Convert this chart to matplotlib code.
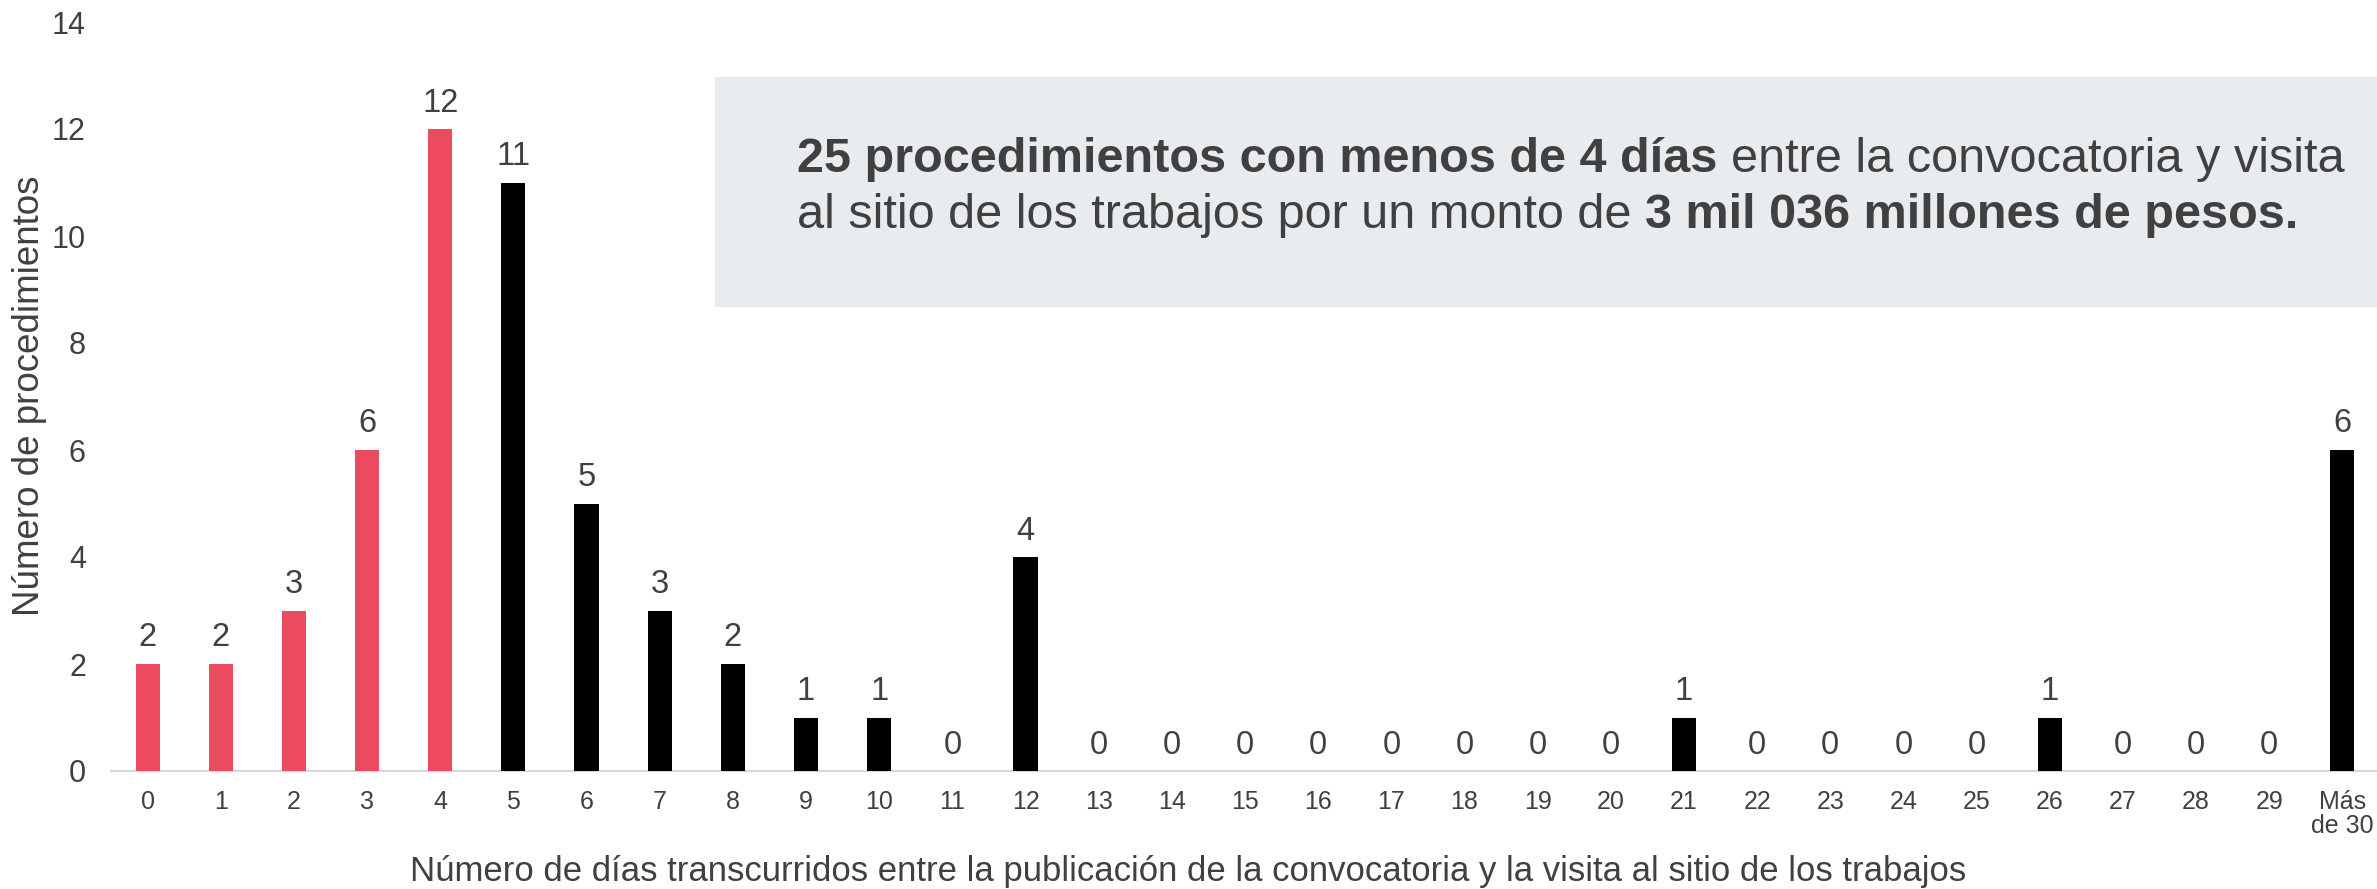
import matplotlib
matplotlib.use("Agg")
import matplotlib.pyplot as plt
from matplotlib.patches import Rectangle

plt.rcParams['font.family'] = ['Liberation Sans', 'DejaVu Sans']

categories = [str(i) for i in range(30)] + ["Más\nde 30"]
values = [2, 2, 3, 6, 12, 11, 5, 3, 2, 1, 1, 0, 4, 0, 0, 0, 0, 0, 0, 0,
          0, 1, 0, 0, 0, 0, 1, 0, 0, 0, 6]
highlight_upto = 4  # categories 0..4 in red
y_ticks = [0, 2, 4, 6, 8, 10, 12, 14]

xlabel = ("Número de días transcurridos entre la publicación de la "
          "convocatoria y la visita al sitio de los trabajos")
ylabel = "Número de procedimientos"
box_line1 = [("25 procedimientos con menos de 4 días", "bold"),
             ("entre la convocatoria y visita", "normal")]
box_line2 = [("al sitio de los trabajos por un monto de", "normal"),
             ("3 mil 036 millones de pesos.", "bold")]

RED = "#EB4A5F"
BLACK = "#000000"
TXT = "#404040"

W, H = 2377, 889
fig = plt.figure(figsize=(W / 100, H / 100), dpi=100)

# annotation box
fig.patches.append(Rectangle((715 / W, 1 - 307 / H), (W - 715) / W, (307 - 77) / H,
                             transform=fig.transFigure, facecolor="#E8ECEF",
                             edgecolor="none", zorder=0))

ax = fig.add_axes([111 / W, 1 - 771 / H, (2379 - 111) / W, (771 - 22) / H])
ax.patch.set_alpha(0)
x = list(range(len(categories)))
colors = [RED if i <= highlight_upto else BLACK for i in x]
ax.bar(x, values, width=0.33, color=colors, zorder=3)
ax.set_xlim(-0.5, len(categories) - 0.5)
ax.set_ylim(0, 14)
ax.set_yticks(y_ticks)
ax.set_xticks(x)
ax.set_xticklabels(categories, fontsize=18, color=TXT, linespacing=1.0)
ax.tick_params(axis='x', length=0, pad=14)
ax.tick_params(axis='y', length=0, pad=18, labelsize=22, labelcolor=TXT)
for s in ['top', 'left', 'right']:
    ax.spines[s].set_visible(False)
ax.spines['bottom'].set_color("#D9D9D9")
ax.spines['bottom'].set_linewidth(1.5)

for xi, v in zip(x, values):
    ax.annotate(str(v), (xi, v), xytext=(0, 12.6), textcoords='offset points',
                ha='center', va='baseline', fontsize=23.5, color=TXT)

fig.text(1188 / W, 1 - 872 / H, xlabel, ha='center', va='center',
         fontsize=25, color=TXT)
fig.text(30 / W, 1 - 396 / H, ylabel, ha='center', va='center',
         rotation=90, fontsize=26.5, color=TXT)

# mixed-weight text in the box
renderer = fig.canvas.get_renderer()
FS = 35
def width_of(s, weight):
    t = fig.text(0, 0, s, fontsize=FS, fontweight=weight)
    w = t.get_window_extent(renderer).width
    t.remove()
    return w

def draw_line(pieces, x0, ybase):
    xc = x0
    for s, wgt in pieces:
        t = fig.text(xc / W, 1 - ybase / H, s, fontsize=FS, fontweight=wgt,
                     color=TXT, ha='left', va='baseline')
        wpx = t.get_window_extent(renderer).width
        gap = width_of("n n", wgt) - width_of("nn", wgt)
        xc += wpx + gap

draw_line(box_line1, 797, 172)
draw_line(box_line2, 797, 228)

fig.savefig("out.png", dpi=100)
